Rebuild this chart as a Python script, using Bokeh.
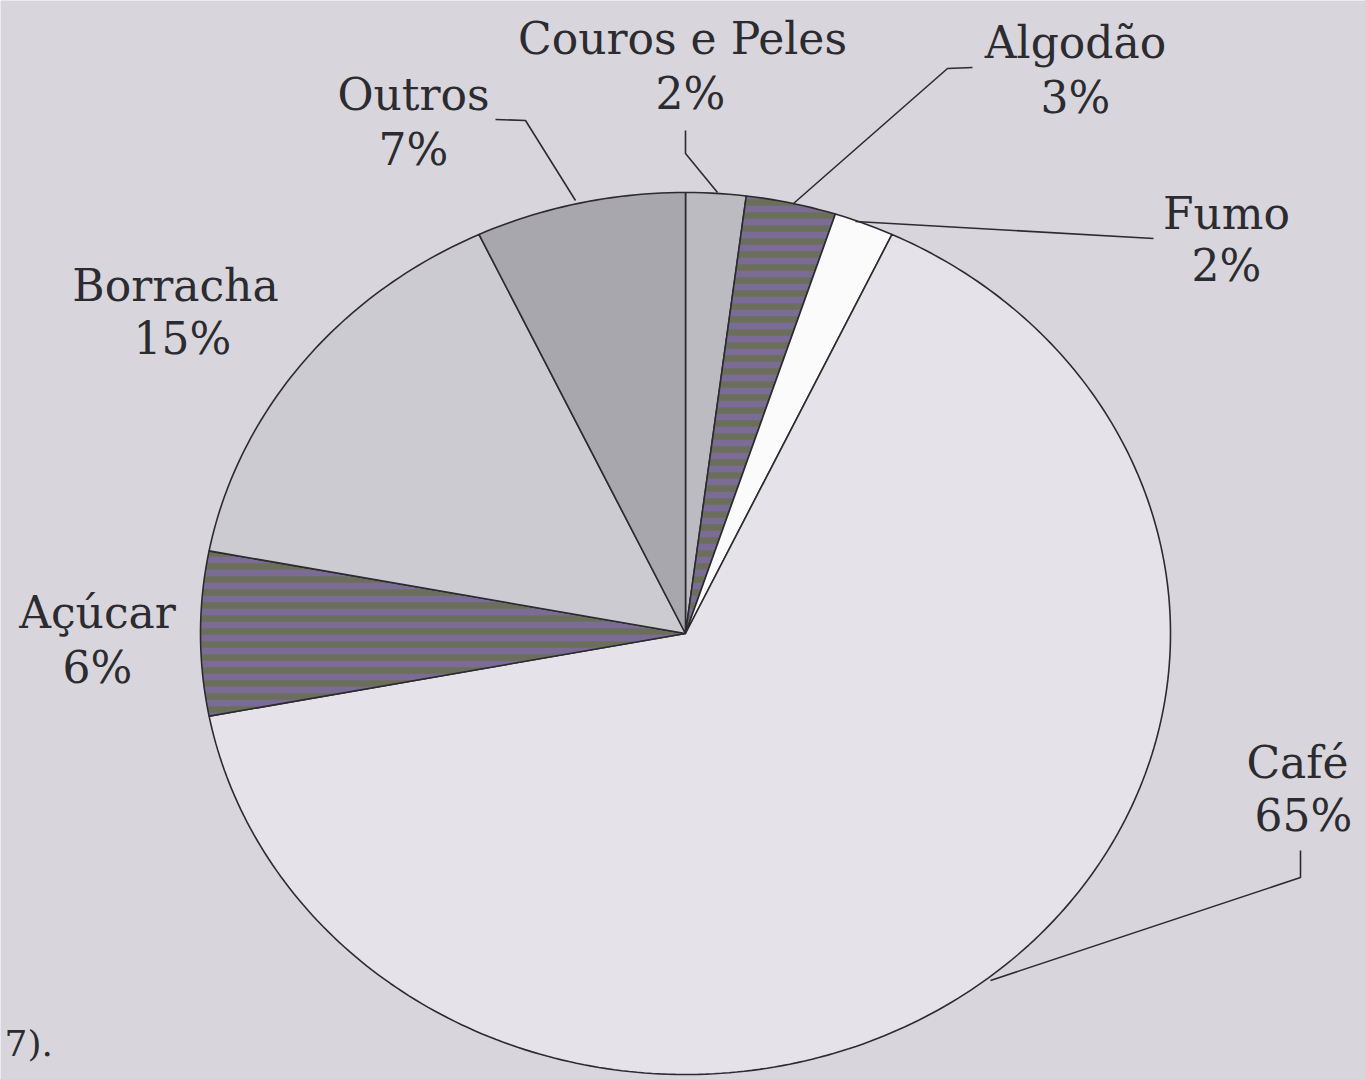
import numpy as np
from bokeh.plotting import figure
from bokeh.models import Range1d, ColumnDataSource
from bokeh.core.properties import value
from bokeh.embed import file_html
from bokeh.resources import INLINE

# ---- data (clockwise from 12 o'clock) ----
categories = ["Couros e Peles", "Algodão", "Fumo", "Café", "Açúcar", "Borracha", "Outros"]
shares = [2, 3, 2, 65, 6, 15, 7]
percent_labels = [f"{v}%" for v in shares]

# ---- styles ----
fills = ["#bdbbc2", "#7b6c96", "#fbfbfc", "#e5e3e9", "#7b6c96", "#cdcbd2", "#a9a7ae"]
hatched = [False, True, False, False, True, False, False]
BG = "#d8d6dc"
INK = "#2b2b30"

W, H = 1365, 1079
p = figure(width=W, height=H, output_backend="svg", toolbar_location=None,
           x_range=Range1d(0, W), y_range=Range1d(H, 0),
           min_border=0, background_fill_color=BG, border_fill_color=BG)
p.axis.visible = False
p.grid.visible = False
p.outline_line_color = None

# pie geometry (page pixel frame)
cx, cy, rx, ry = 685, 633, 485, 441

cum = np.concatenate([[0], np.cumsum(shares)]) / float(sum(shares))
for i, cat in enumerate(categories):
    t = np.linspace(cum[i], cum[i + 1], max(4, int(400 * (cum[i + 1] - cum[i]))))
    th = 2 * np.pi * t
    xs = np.concatenate([[cx], cx + rx * np.sin(th), [cx]])
    ys = np.concatenate([[cy], cy - ry * np.cos(th), [cy]])
    kw = dict(fill_color=fills[i], line_color=INK, line_width=1.6)
    if hatched[i]:
        kw.update(hatch_pattern="horizontal_line", hatch_color="#6c6e5c",
                  hatch_scale=13, hatch_weight=6.5)
    p.patch(xs, ys, **kw)

# leader lines
leaders = [
    ([495, 525, 575], [119, 120, 200]),      # Outros
    ([685, 685, 717], [130, 153, 192]),      # Couros e Peles
    ([972, 947, 793], [67, 68, 203]),        # Algodão
    ([855, 1153], [221, 238]),               # Fumo
    ([1300, 1300, 990], [850, 877, 980]),    # Café
]
p.multi_line([l[0] for l in leaders], [l[1] for l in leaders], line_color=INK, line_width=1.6)

# label positions (name line, percent line)
name_pos = [(682, 38), (1075, 42), (1226, 213), (1297, 762), (97, 612), (175, 285), (413, 94)]
pct_pos = [(690, 93), (1075, 97), (1226, 265), (1303, 815), (97, 667), (182, 338), (413, 149)]

src = ColumnDataSource(dict(
    x=[q[0] for q in name_pos] + [q[0] for q in pct_pos],
    y=[q[1] for q in name_pos] + [q[1] for q in pct_pos],
    t=categories + percent_labels,
))
p.text(x="x", y="y", text="t", source=src, text_font=value("DejaVu Serif"),
       text_font_size="44px", text_color=INK, text_align="center", text_baseline="middle")

# fragment of surrounding page text in the scan
p.text(x=[4], y=[1043], text=["7)."], text_font=value("DejaVu Serif"),
       text_font_size="36px", text_color=INK, text_align="left", text_baseline="middle")

html = file_html(p, INLINE)
open("out.html", "w").write(html)
